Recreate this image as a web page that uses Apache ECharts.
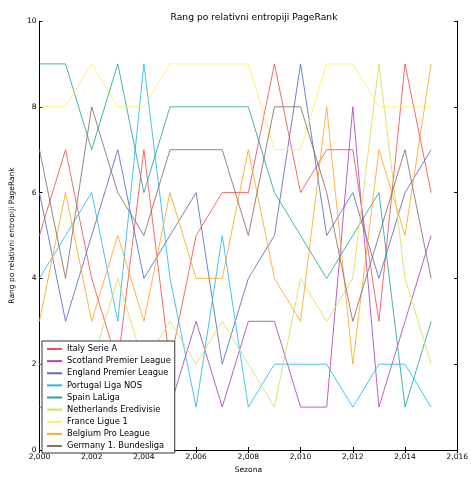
<!DOCTYPE html>
<html>
<head>
<meta charset="utf-8">
<script src="https://cdn.jsdelivr.net/npm/echarts@6/dist/echarts.min.js"></script>
<style>html,body{margin:0;padding:0;background:#fff}#c{width:471px;height:479px}</style>
</head>
<body>
<div id="c"></div>
<script>
const years = [2000,2001,2002,2003,2004,2005,2006,2007,2008,2009,2010,2011,2012,2013,2014,2015];
const seriesNames = ['Italy Serie A','Scotland Premier League','England Premier League','Portugal Liga NOS','Spain LaLiga','Netherlands Eredivisie','France Ligue 1','Belgium Pro League','Germany 1. Bundesliga'];
const italy       = [5,7,4,2,7,2,5,6,6,9,6,7,7,3,9,6];
const scotland    = [1,1,1,1,1,1,3,1,3,3,1,1,8,1,3,5];
const england     = [6,3,5,7,4,5,6,2,4,5,9,5,6,4,6,7];
const portugal    = [4,5,6,3,9,4,1,5,1,2,2,2,1,2,2,1];
const spain       = [9,9,7,9,6,8,8,8,8,6,5,4,5,6,1,3];
const netherlands = [2,2,2,4,2,3,2,3,2,1,4,3,4,9,4,2];
const france      = [8,8,9,8,8,9,9,9,9,7,7,9,9,8,8,8];
const belgium     = [3,6,3,5,3,6,4,4,7,4,3,8,2,7,5,9];
const germany     = [7,4,8,6,5,7,7,7,5,8,8,6,3,5,7,4];
const xTicks = [2000,2002,2004,2006,2008,2010,2012,2014,2016];
const yTicks = [0,2,4,6,8,10];

const values = [italy,scotland,england,portugal,spain,netherlands,france,belgium,germany];
const colors = ['#ef5350','#ab47bc','#5c6bc0','#29b6f6','#26a69a','#d4e157','#ffee58','#ffa726','#8d6e63'];
const FONT = 'DejaVu Sans';

const chart = echarts.init(document.getElementById('c'));
const baseX = {type:'value', min:xTicks[0], max:xTicks[xTicks.length-1], interval:2,
  splitLine:{show:false}, axisLine:{lineStyle:{color:'#000',width:1}},
  axisTick:{inside:true,length:3,lineStyle:{color:'#000'}}};
const baseY = {type:'value', min:yTicks[0], max:yTicks[yTicks.length-1], interval:2,
  splitLine:{show:false}, axisLine:{lineStyle:{color:'#000',width:1}},
  axisTick:{inside:true,length:3,lineStyle:{color:'#000'}}};

chart.setOption({
  animation:false,
  backgroundColor:'#fff',
  title:{text:'Rang po relativni entropiji PageRank', left:249, top:8, textAlign:'center',
    textStyle:{fontFamily:FONT,fontSize:9.2,fontWeight:'normal',color:'#000'}},
  grid:{left:37,top:21,right:10,bottom:20,show:false},
  legend:{orient:'vertical', left:42, top:341, data:seriesNames,
    backgroundColor:'#fff', borderColor:'#333', borderWidth:1, padding:[2,4,1,5],
    itemWidth:15, itemHeight:2, itemGap:0.125, icon:'rect',
    textStyle:{fontFamily:FONT,fontSize:8.3,color:'#000',lineHeight:12}},
  xAxis:[
    Object.assign({}, baseX, {position:'bottom', name:'Sezona', nameLocation:'middle', nameGap:16,
      nameTextStyle:{fontFamily:FONT,fontSize:7.5,color:'#000'},
      axisLabel:{fontFamily:FONT,fontSize:7.5,color:'#000',margin:3}}),
    Object.assign({}, baseX, {position:'top', axisLabel:{show:false}})
  ],
  yAxis:[
    Object.assign({}, baseY, {position:'left', name:'Rang po relativni entropiji PageRank', nameLocation:'middle', nameGap:17,
      nameTextStyle:{fontFamily:FONT,fontSize:7.5,color:'#000'},
      axisLabel:{fontFamily:FONT,fontSize:7.5,color:'#000',margin:3}}),
    Object.assign({}, baseY, {position:'right', axisLabel:{show:false}})
  ],
  series: seriesNames.map((n,i)=>({
    name:n, type:'line', xAxisIndex:0, yAxisIndex:0, symbol:'none',
    data: years.map((y,j)=>[y, values[i][j]]),
    lineStyle:{width:1,color:colors[i],opacity:0.85}, itemStyle:{color:colors[i]}
  }))
});
</script>
</body>
</html>
